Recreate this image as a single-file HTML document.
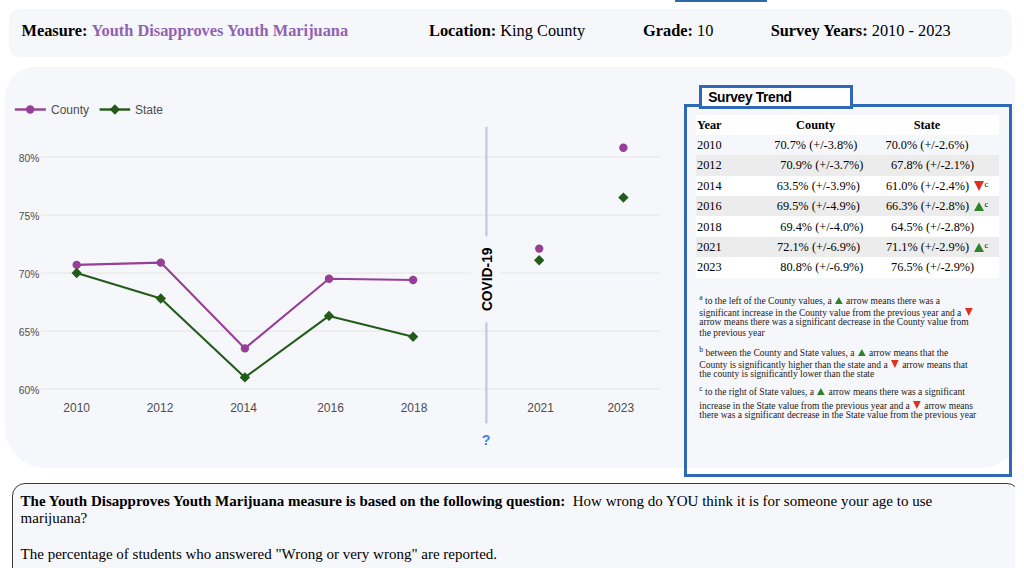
<!DOCTYPE html>
<html><head><meta charset="utf-8">
<style>
html,body{margin:0;padding:0;background:#fff;width:1024px;height:568px;overflow:hidden;position:relative;}
*{box-sizing:border-box;}
#topbar{position:absolute;left:675px;top:0;width:92px;height:1.8px;background:#2f6aa8;}
#header{position:absolute;left:9px;top:9px;width:1003px;height:48.3px;background:#f6f7fb;border-radius:10px;font-family:"Liberation Serif",serif;font-size:16.35px;color:#000;}
#header .h{position:absolute;top:11.8px;white-space:nowrap;line-height:normal;}
.purple{color:#9162b2;font-weight:bold;}
#panel{position:absolute;left:5px;top:66.6px;width:1016px;height:401.2px;background:#f6f7fb;border-radius:30px 30px 40px 40px;}
#clip2{position:absolute;left:0;top:0;width:1015px;height:568px;overflow:hidden;}
#fs{position:absolute;left:684px;top:104px;width:328px;height:373px;border:3px solid #3068b8;}
#legend{position:absolute;left:699px;top:85px;width:154px;height:24px;border:3px solid #3068b8;background:#fff;}
#legend span{position:absolute;left:6.2px;top:2.6px;font-family:"Liberation Sans",sans-serif;font-weight:bold;font-size:13.8px;line-height:13.8px;letter-spacing:-0.33px;white-space:nowrap;color:#000;}
.trow{position:absolute;left:696.4px;width:303.1px;}
.tt{position:absolute;font-family:"Liberation Serif",serif;font-size:12.3px;line-height:12.3px;white-space:nowrap;color:#000;}
.tt.b{font-weight:bold;}
.tt.c{text-align:center;}
.ar{position:absolute;}
.tsup{position:absolute;font-family:"Liberation Serif",serif;font-size:8.5px;line-height:8.5px;color:#000;}
.fn{position:absolute;left:699.3px;font-family:"Liberation Serif",serif;font-size:9.5px;line-height:9.5px;white-space:nowrap;color:#1a1a1a;}
.fn sup{font-size:7.5px;vertical-align:0;position:relative;top:-4px;font-weight:normal;}
.ia{display:inline-block;vertical-align:0;}
#clip{position:absolute;left:0;top:0;width:1015px;height:568px;overflow:hidden;}
#bottom{position:absolute;left:11.6px;top:483px;width:1008.4px;height:120px;border:1.1px solid #3a3a3a;border-radius:13px;background:#f6f7fb;}
.bt{position:absolute;left:20.6px;font-family:"Liberation Serif",serif;font-size:15px;line-height:15px;white-space:nowrap;color:#000;}
</style></head>
<body>
<div id="topbar"></div>
<div id="header">
  <div class="h" style="left:12.5px"><b>Measure:</b> <span class="purple">Youth Disapproves Youth Marijuana</span></div>
  <div class="h" style="left:420px"><b>Location:</b> King County</div>
  <div class="h" style="left:634px"><b>Grade:</b> 10</div>
  <div class="h" style="left:761.7px"><b>Survey Years:</b> 2010 - 2023</div>
</div>
<div id="clip2"><div id="panel"></div></div>
<svg id="chart" width="1024" height="568" style="position:absolute;left:0;top:0">
<g font-family="Liberation Sans, sans-serif" fill="#4d4d4d">
<g stroke="#e8e8e6" stroke-width="1.3"><line x1="41" x2="660" y1="389.2" y2="389.2"/><line x1="41" x2="660" y1="331.2" y2="331.2"/><line x1="41" x2="660" y1="273.2" y2="273.2"/><line x1="41" x2="660" y1="215.2" y2="215.2"/><line x1="41" x2="660" y1="157.2" y2="157.2"/></g>
<g text-anchor="end" font-size="10.3"><text x="39.4" y="393.5">60%</text><text x="39.4" y="335.5">65%</text><text x="39.4" y="277.5">70%</text><text x="39.4" y="219.5">75%</text><text x="39.4" y="161.5">80%</text></g>
<g text-anchor="middle" font-size="12"><text x="76.65" y="412">2010</text><text x="160.0" y="412">2012</text><text x="243.5" y="412">2014</text><text x="330.5" y="412">2016</text><text x="414.0" y="412">2018</text><text x="540.6" y="412">2021</text><text x="620.8" y="412">2023</text></g>
<line x1="14.8" x2="45.9" y1="109.5" y2="109.5" stroke="#973e96" stroke-width="2.4"/>
<circle cx="30.2" cy="109.5" r="4.2" fill="#973e96"/>
<text x="51" y="113.8" font-size="12">County</text>
<line x1="99.6" x2="130.2" y1="109.5" y2="109.5" stroke="#235b1b" stroke-width="2.4"/>
<path d="M114.9 104.3l5.2 5.2-5.2 5.2-5.2-5.2z" fill="#235b1b"/>
<text x="135" y="113.8" font-size="12">State</text>
<rect x="471" y="236.5" width="30" height="86" fill="#f6f7fb"/>
<g stroke="#c2c7df" stroke-width="2.2">
<line x1="486.4" x2="486.4" y1="126.8" y2="236.3"/>
<line x1="486.4" x2="486.4" y1="322.5" y2="423.4"/>
</g>
<text transform="translate(492.2,279.3) rotate(-90)" text-anchor="middle" font-weight="bold" fill="#000" font-size="13.8">COVID-19</text>
<text x="486.2" y="445" text-anchor="middle" font-weight="bold" fill="#3b84f2" font-size="14.2">?</text>
<polyline points="76.7,264.9 160.8,262.6 244.9,348.4 329.0,278.8 413.1,280.0" fill="none" stroke="#973e96" stroke-width="2.1" stroke-linejoin="round"/>
<polyline points="76.7,273.0 160.8,298.5 244.9,377.4 329.0,315.9 413.1,336.8" fill="none" stroke="#235b1b" stroke-width="2.1" stroke-linejoin="round"/>
<g fill="#973e96"><circle cx="76.7" cy="264.9" r="4.2"/><circle cx="160.8" cy="262.6" r="4.2"/><circle cx="244.9" cy="348.4" r="4.2"/><circle cx="329.0" cy="278.8" r="4.2"/><circle cx="413.1" cy="280.0" r="4.2"/><circle cx="539.2" cy="248.6" r="4.2"/><circle cx="623.4" cy="147.7" r="4.2"/></g>
<g fill="#235b1b"><path d="M76.7 267.8l5.2 5.2-5.2 5.2-5.2-5.2z"/><path d="M160.8 293.3l5.2 5.2-5.2 5.2-5.2-5.2z"/><path d="M244.9 372.2l5.2 5.2-5.2 5.2-5.2-5.2z"/><path d="M329.0 310.7l5.2 5.2-5.2 5.2-5.2-5.2z"/><path d="M413.1 331.6l5.2 5.2-5.2 5.2-5.2-5.2z"/><path d="M539.2 255.0l5.2 5.2-5.2 5.2-5.2-5.2z"/><path d="M623.4 192.4l5.2 5.2-5.2 5.2-5.2-5.2z"/></g>
</g>
</svg>
<div id="fs"></div>
<div id="legend"><span>Survey Trend</span></div>
<div class="trow" style="top:114.5px;height:20.2px;background:#fff"></div>
<div class="tt b" style="left:697px;top:118.60px">Year</div>
<div class="tt b c" style="left:775.60px;width:80px;top:118.60px">County</div>
<div class="tt b c" style="left:887.00px;width:80px;top:118.60px">State</div>
<div class="tt" style="left:697px;top:138.90px">2010</div>
<div class="tt" style="left:774.3px;top:138.90px">70.7% (+/-3.8%)</div>
<div class="tt" style="left:885.5px;top:138.90px">70.0% (+/-2.6%)</div>
<div class="trow" style="top:155.10px;height:20.45px;background:#ececec"></div>
<div class="tt" style="left:697px;top:159.30px">2012</div>
<div class="tt" style="left:780.3px;top:159.30px">70.9% (+/-3.7%)</div>
<div class="tt" style="left:891.1px;top:159.30px">67.8% (+/-2.1%)</div>
<div class="trow" style="top:175.50px;height:20.45px;background:#fff"></div>
<div class="tt" style="left:697px;top:179.70px">2014</div>
<div class="tt" style="left:776.8px;top:179.70px">63.5% (+/-3.9%)</div>
<div class="tt" style="left:885.9px;top:179.70px">61.0% (+/-2.4%)</div>
<svg class="ar" style="left:973.6px;top:180.50px" width="10" height="10"><path d="M0 0H10L5 10Z" fill="#e0301e"/></svg>
<div class="tsup" style="left:984.6px;top:179.50px">c</div>
<div class="trow" style="top:195.90px;height:20.45px;background:#ececec"></div>
<div class="tt" style="left:697px;top:200.10px">2016</div>
<div class="tt" style="left:776.8px;top:200.10px">69.5% (+/-4.9%)</div>
<div class="tt" style="left:885.9px;top:200.10px">66.3% (+/-2.8%)</div>
<svg class="ar" style="left:973.6px;top:202.30px" width="10" height="9"><path d="M0 9H10L5 0Z" fill="#2e8229"/></svg>
<div class="tsup" style="left:984.6px;top:199.90px">c</div>
<div class="trow" style="top:216.30px;height:20.45px;background:#fff"></div>
<div class="tt" style="left:697px;top:220.50px">2018</div>
<div class="tt" style="left:780.3px;top:220.50px">69.4% (+/-4.0%)</div>
<div class="tt" style="left:891.1px;top:220.50px">64.5% (+/-2.8%)</div>
<div class="trow" style="top:236.70px;height:20.45px;background:#ececec"></div>
<div class="tt" style="left:697px;top:240.90px">2021</div>
<div class="tt" style="left:777.1px;top:240.90px">72.1% (+/-6.9%)</div>
<div class="tt" style="left:885.9px;top:240.90px">71.1% (+/-2.9%)</div>
<svg class="ar" style="left:973.6px;top:243.10px" width="10" height="9"><path d="M0 9H10L5 0Z" fill="#2e8229"/></svg>
<div class="tsup" style="left:984.6px;top:240.70px">c</div>
<div class="trow" style="top:257.10px;height:20.45px;background:#fff"></div>
<div class="tt" style="left:697px;top:261.30px">2023</div>
<div class="tt" style="left:780.3px;top:261.30px">80.8% (+/-6.9%)</div>
<div class="tt" style="left:891.1px;top:261.30px">76.5% (+/-2.9%)</div>
<div class="fn" style="top:296.54px"><sup>a</sup> to the left of the County values, a <svg class="ia" width="9.7" height="7"><path d="M1 7H8.7L4.85 0Z" fill="#2e8229"/></svg> arrow means there was a</div>
<div class="fn" style="top:307.94px">significant increase in the County value from the previous year and a <svg class="ia" width="9.7" height="8"><path d="M1 0H8.7L4.85 8Z" fill="#e0301e"/></svg></div>
<div class="fn" style="top:318.34px">arrow means there was a significant decrease in the County value from</div>
<div class="fn" style="top:328.74px">the previous year</div>
<div class="fn" style="top:348.54px"><sup>b</sup> between the County and State values, a <svg class="ia" width="9.7" height="7"><path d="M1 7H8.7L4.85 0Z" fill="#2e8229"/></svg> arrow means that the</div>
<div class="fn" style="top:360.14px">County is significantly higher than the state and a <svg class="ia" width="9.7" height="8"><path d="M1 0H8.7L4.85 8Z" fill="#e0301e"/></svg> arrow means that</div>
<div class="fn" style="top:369.94px">the county is significantly lower than the state</div>
<div class="fn" style="top:388.14px"><sup>c</sup> to the right of State values, a <svg class="ia" width="9.7" height="7"><path d="M1 7H8.7L4.85 0Z" fill="#2e8229"/></svg> arrow means there was a significant</div>
<div class="fn" style="top:400.54px">increase in the State value from the previous year and a <svg class="ia" width="9.7" height="8"><path d="M1 0H8.7L4.85 8Z" fill="#e0301e"/></svg> arrow means</div>
<div class="fn" style="top:410.54px">there was a significant decrease in the State value from the previous year</div>
<div id="clip">
<div id="bottom"></div>
<div class="bt" style="top:494.04px"><b>The Youth Disapproves Youth Marijuana measure is based on the following question:</b>&nbsp; How wrong do YOU think it is for someone your age to use</div>
<div class="bt" style="top:511.34px">marijuana?</div>
<div class="bt" style="top:546.54px">The percentage of students who answered "Wrong or very wrong" are reported.</div>
</div>
</body></html>
